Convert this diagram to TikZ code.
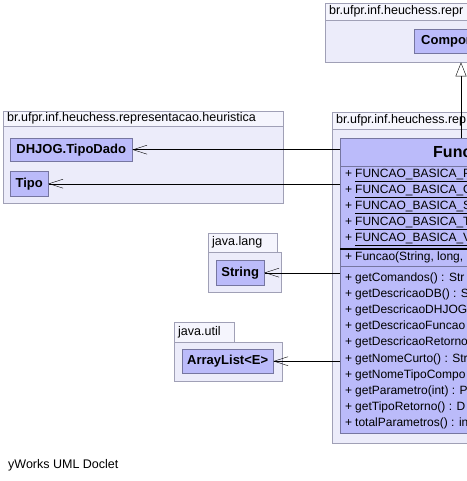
\documentclass[tikz,border=0pt]{standalone}
\usepackage{fontspec}
\setmainfont{Liberation Sans}
\usetikzlibrary{arrows.meta,positioning}

\definecolor{pkgfill}{RGB}{236,236,250}
\definecolor{pkghead}{RGB}{245,245,253}
\definecolor{pkgline}{RGB}{160,160,182}
\definecolor{clsfill}{RGB}{187,187,250}
\definecolor{clsline}{RGB}{118,118,160}

\newcommand{\pkgfont}{\fontsize{12.5bp}{14bp}\selectfont}
\newcommand{\membfont}{\fontsize{12bp}{14bp}\selectfont}
\newcommand{\clsfont}{\fontsize{13bp}{15bp}\selectfont\bfseries}
\newcommand{\memb}[1]{\makebox[10bp][l]{+}#1}

\begin{document}
\begin{tikzpicture}[x=1bp,y=-1bp,font=\pkgfont,
  pkg/.style={draw=pkgline,fill=pkgfill,anchor=north west,inner sep=0pt},
  head/.style={draw=pkgline,fill=pkghead,anchor=north west,inner xsep=4bp,inner ysep=0pt,align=left,font=\pkgfont},
  cls/.style={draw=clsline,fill=clsfill,anchor=north west,inner sep=0pt,font=\clsfont},
  member/.style={anchor=west,inner sep=0pt,font=\membfont},
  dep/.style={-{Straight Barb[length=14bp,width=9bp]}},
  inherit/.style={-{Triangle[length=14bp,width=11bp,fill=white]}}]
\useasboundingbox (0,0) rectangle (467,481);
\clip (0,0) rectangle (467,481);

% packages
\node[pkg,minimum width=175bp,minimum height=42bp] (pkgtop) at (325,20) {};
\node[head,text width=167bp,minimum height=17bp] (pkgtophd) at (325,3) {br.ufpr.inf.heuchess.repr};
\node[pkg,minimum width=190bp,minimum height=314bp] (pkgrep) at (332,129) {};
\node[head,text width=182bp,minimum height=17bp] (pkgrephd) at (332,112) {br.ufpr.inf.heuchess.rep};
\node[pkg,minimum width=280bp,minimum height=77bp] (pkgheur) at (3,126) {};
\node[head,text width=272bp,minimum height=15bp] (pkgheurhd) at (3,111) {br.ufpr.inf.heuchess.representacao.heuristica};
\node[pkg,minimum width=73bp,minimum height=40bp] (pkglang) at (208,252) {};
\node[head,text width=61bp,minimum height=19bp] (pkglanghd) at (208,233) {java.lang};
\node[pkg,minimum width=108bp,minimum height=39bp] (pkgutil) at (174,342) {};
\node[head,text width=52bp,minimum height=20bp] (pkgutilhd) at (174,322) {java.util};

% classes
\node[cls,minimum width=106bp,minimum height=24bp] (compon) at (414,29) {};
\node[anchor=west,inner sep=0pt,font=\clsfont] at (421,41) {Compon};
\node[cls,minimum width=122bp,minimum height=23bp] (tipodado) at (10,138) {DHJOG.TipoDado};
\node[cls,minimum width=38bp,minimum height=25bp] (tipo) at (10,171) {Tipo};
\node[cls,minimum width=48bp,minimum height=25bp] (string) at (216,260) {String};
\node[cls,minimum width=91bp,minimum height=24bp] (arraylist) at (182,349) {ArrayList<E>};

% Funcao
\node[cls,minimum width=200bp,minimum height=295bp] (funcao) at (340,138) {};
\draw[clsline] (340,166) -- (540,166) (340,266) -- (540,266);
\draw[black,line width=1.2pt] (340,249) -- (540,249);
\node[anchor=west,inner sep=0pt,font=\fontsize{16bp}{18bp}\selectfont\bfseries] (funcaoname) at (433,152) {Funcao};
\foreach \f [count=\i from 0] in {P,Q,S,T,V}
  \node[member] at (345,{175+16*\i}) {\memb{\underline{FUNCAO\_BASICA\_\f}}};
\node[member] at (345,257.5) {\memb{Funcao(String, long,}};
\foreach \m [count=\i from 0] in {getComandos() : Str,getDescricaoDB() : S,getDescricaoDHJOG,getDescricaoFuncao,getDescricaoRetorno,getNomeCurto() : Str,getNomeTipoCompo,getParametro(int) : P,getTipoRetorno() : D,totalParametros() : in}
  \node[member] at (345,{278+16.2*\i}) {\memb{\m}};

% connectors
\coordinate (inhsrc) at (461,138);
\draw[inherit] (inhsrc) -- (inhsrc |- pkgtop.south);
\draw[dep] (funcao.west |- tipodado) -- (tipodado);
\draw[dep] (funcao.west |- tipo) -- (tipo);
\draw[dep] (funcao.west |- string) -- (string);
\draw[dep] (funcao.west |- arraylist) -- (arraylist);

\node[anchor=west,inner sep=0pt] (doclet) at (8,465) {yWorks UML Doclet};
\end{tikzpicture}
\end{document}
